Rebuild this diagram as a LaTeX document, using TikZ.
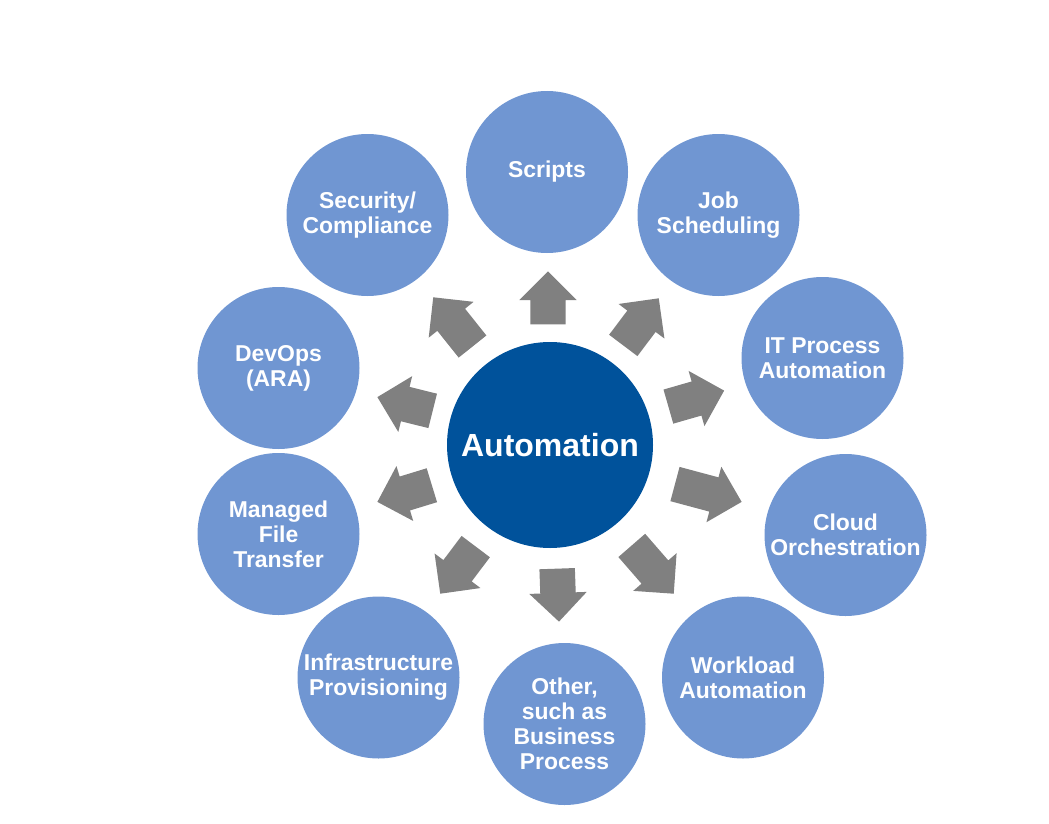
\documentclass[tikz,border=0pt]{standalone}
\usepackage{fontspec}
\setmainfont{Liberation Sans}
\usetikzlibrary{shapes.arrows}
\definecolor{themeblue}{RGB}{112,150,210}
\definecolor{coreblue}{RGB}{0,82,155}
\definecolor{arrowgray}{RGB}{128,128,128}

\begin{document}
\begin{tikzpicture}[x=0.75pt,y=-0.75pt,
    roundnode/.style={circle,fill=themeblue,text=white,minimum size=121.5pt,inner sep=-10pt,align=center,font=\fontsize{17.2}{18.8}\selectfont\bfseries},
    corenode/.style={circle,fill=coreblue,text=white,minimum size=154.5pt,inner sep=0pt,font=\fontsize{24}{28}\selectfont\bfseries},
    blockarrow/.style={single arrow,fill=arrowgray,anchor=tip,inner xsep=0pt,inner ysep=13.1pt,minimum width=42.75pt,single arrow head extend=8.25pt,minimum height=#1*0.75pt}]
    \useasboundingbox (0,0) rectangle (1049,824);
    \node[corenode] at (550,445) (automation) {Automation};
    \node[roundnode] at (547,172) (themeScripts) {Scripts};
    \node[roundnode] at (718.5,215) (themeJob) {Job\\Scheduling};
    \node[roundnode] at (822.5,358) (themeProcess) {IT Process\\Automation};
    \node[roundnode] at (845.5,535) (themeCloud) {Cloud\\Orchestration};
    \node[roundnode] at (743,677.5) (themeWorkload) {Workload\\Automation};
    \node[roundnode] at (564.5,724) (themeOther) {Other,\\such as\\Business\\Process};
    \node[roundnode] at (378.5,677.5) (themeInfra) {Infrastructure\\Provisioning};
    \node[roundnode] at (278.5,534) (themeTransfer) {Managed\\File\\Transfer};
    \node[roundnode] at (278.5,368) (themeDevOps) {DevOps\\(ARA)};
    \node[roundnode] at (367.5,215) (themeSecurity) {Security/\\Compliance};
    % arrows placed by their tips
    \node[blockarrow=53,rotate=90] at (548,271) (arrowScripts) {};
    \node[blockarrow=59,rotate=53] at (659,298) (arrowJob) {};
    \node[blockarrow=58,rotate=16] at (724.5,390.5) (arrowProcess) {};
    \node[blockarrow=69,rotate=-15] at (742,502) (arrowCloud) {};
    \node[blockarrow=64,rotate=-49] at (674,594) (arrowWorkload) {};
    \node[blockarrow=53,rotate=-88] at (559,622) (arrowOther) {};
    \node[blockarrow=59,rotate=-127] at (440,594) (arrowInfra) {};
    \node[blockarrow=57,rotate=-163] at (377,502) (arrowTransfer) {};
    \node[blockarrow=57,rotate=166] at (377,397) (arrowDevOps) {};
    \node[blockarrow=63,rotate=128.6] at (433,297) (arrowSecurity) {};
\end{tikzpicture}
\end{document}
